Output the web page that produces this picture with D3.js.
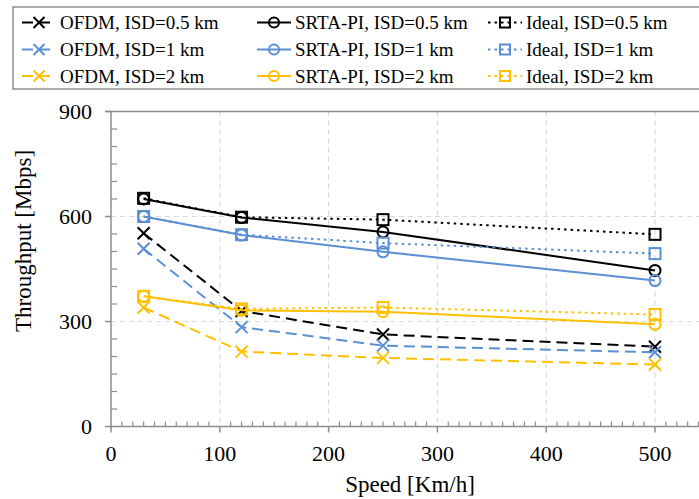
<!DOCTYPE html>
<html>
<head>
<meta charset="utf-8">
<script src="https://cdn.jsdelivr.net/npm/d3@7"></script>
<style>
body{margin:0;background:#fff;}
</style>
</head>
<body>
<div id="svgContainer"></div>
<script>
// chart data
var speeds = [30, 120, 250, 500];
var ofdm05 = [552, 330, 263, 228];
var ofdm1 = [508, 284, 231, 212];
var ofdm2 = [340, 214, 196, 177];
var srta05 = [650, 597, 556, 446];
var srta1 = [600, 547, 499, 417];
var srta2 = [372, 332, 328, 292];
var ideal05 = [652, 598, 591, 549];
var ideal1 = [600, 548, 524, 494];
var ideal2 = [372, 336, 340, 320];
var seriesNames = ["OFDM, ISD=0.5 km","SRTA-PI, ISD=0.5 km","Ideal, ISD=0.5 km",
                   "OFDM, ISD=1 km","SRTA-PI, ISD=1 km","Ideal, ISD=1 km",
                   "OFDM, ISD=2 km","SRTA-PI, ISD=2 km","Ideal, ISD=2 km"];
var xTicks = [0, 100, 200, 300, 400, 500];
var yTicks = [0, 300, 600, 900];

var svgWidth = 699, svgHeight = 499;
var serif = "'Liberation Serif', 'Times New Roman', 'DejaVu Serif', serif";
var svg = d3.select("#svgContainer").append("svg")
    .attr("width", svgWidth).attr("height", svgHeight)
    .attr("font-family", serif)
    .style("font-family", serif)
    .style("display","block");

var black = "#000000", blue = "#5b8fd3", gold = "#ffc000";
var axisCol = "#8c8c8c", gridCol = "#d9d9d9";

var series = [
  {name: seriesNames[0], values: ofdm05, color: black, dash: "11,6", marker: "x"},
  {name: seriesNames[1], values: srta05, color: black, dash: null, marker: "o"},
  {name: seriesNames[2], values: ideal05, color: black, dash: "2.5,4", marker: "s"},
  {name: seriesNames[3], values: ofdm1, color: blue, dash: "11,6", marker: "x"},
  {name: seriesNames[4], values: srta1, color: blue, dash: null, marker: "o"},
  {name: seriesNames[5], values: ideal1, color: blue, dash: "2.5,4", marker: "s"},
  {name: seriesNames[6], values: ofdm2, color: gold, dash: "11,6", marker: "x"},
  {name: seriesNames[7], values: srta2, color: gold, dash: null, marker: "o"},
  {name: seriesNames[8], values: ideal2, color: gold, dash: "2.5,4", marker: "s"}
];

var x = d3.scaleLinear().domain([0, 500]).range([111, 655]);
var y = d3.scaleLinear().domain([0, 900]).range([426.5, 111.5]);
var xRight = svgWidth + 5;

// grid
var grid = svg.append("g");
grid.selectAll(".gx").data(xTicks.slice(1)).enter().append("line")
    .attr("x1", d => x(d)).attr("x2", d => x(d))
    .attr("y1", y(900)).attr("y2", y(0))
    .attr("stroke", gridCol).attr("stroke-width", 1.2).attr("stroke-dasharray", "5,4");
grid.selectAll(".gy").data([300, 600]).enter().append("line")
    .attr("x1", x(0)).attr("x2", xRight)
    .attr("y1", d => y(d)).attr("y2", d => y(d))
    .attr("stroke", gridCol).attr("stroke-width", 1.2).attr("stroke-dasharray", "5,4");
// top border line at 900
svg.append("line")
    .attr("x1", x(0) - 6).attr("x2", xRight)
    .attr("y1", y(900)).attr("y2", y(900))
    .attr("stroke", axisCol).attr("stroke-width", 1.5);

// axes
var xAxis = svg.append("g").attr("transform", "translate(0," + y(0) + ")");
xAxis.append("line").attr("x1", x(0)).attr("x2", xRight)
    .attr("stroke", axisCol).attr("stroke-width", 1.5);
xAxis.selectAll(".minor").data(d3.range(10, 550, 10).filter(d => d % 100 != 0)).enter().append("line")
    .attr("x1", d => x(d)).attr("x2", d => x(d)).attr("y1", 0).attr("y2", -5)
    .attr("stroke", axisCol).attr("stroke-width", 1.2);
xAxis.selectAll(".major").data(xTicks).enter().append("line")
    .attr("x1", d => x(d)).attr("x2", d => x(d)).attr("y1", 0).attr("y2", 6)
    .attr("stroke", axisCol).attr("stroke-width", 1.5);
xAxis.selectAll("text").data(xTicks).enter().append("text")
    .attr("x", d => x(d)).attr("y", 34)
    .attr("text-anchor", "middle").attr("font-size", 22).attr("fill", "#000")
    .text(d => d);

var yAxis = svg.append("g").attr("transform", "translate(" + x(0) + ",0)");
yAxis.append("line").attr("y1", y(0)).attr("y2", y(900))
    .attr("stroke", axisCol).attr("stroke-width", 1.5);
yAxis.selectAll(".minor").data(d3.range(50, 900, 50).filter(d => d % 300 != 0)).enter().append("line")
    .attr("y1", d => y(d)).attr("y2", d => y(d)).attr("x1", 0).attr("x2", 6)
    .attr("stroke", axisCol).attr("stroke-width", 1.2);
yAxis.selectAll(".major").data(yTicks).enter().append("line")
    .attr("y1", d => y(d)).attr("y2", d => y(d)).attr("x1", -6).attr("x2", 0)
    .attr("stroke", axisCol).attr("stroke-width", 1.5);
yAxis.selectAll("text").data(yTicks).enter().append("text")
    .attr("x", -19).attr("y", d => y(d)).attr("dy", "0.35em")
    .attr("text-anchor", "end").attr("font-size", 22).attr("fill", "#000")
    .text(d => d);

// axis titles
svg.append("text").attr("x", 410).attr("y", 492)
    .attr("text-anchor", "middle").attr("font-size", 23).text("Speed [Km/h]");
svg.append("text")
    .attr("transform", "translate(31,241) rotate(-90)")
    .attr("text-anchor", "middle").attr("font-size", 23).text("Throughput [Mbps]");

function drawMarker(g, type, cx, cy, color, s) {
  if (type == "x") {
    g.append("path")
      .attr("d", "M" + (cx - s) + "," + (cy - s) + "L" + (cx + s) + "," + (cy + s) +
                 "M" + (cx - s) + "," + (cy + s) + "L" + (cx + s) + "," + (cy - s))
      .attr("stroke", color).attr("stroke-width", 2).attr("fill", "none");
  } else if (type == "o") {
    g.append("circle").attr("cx", cx).attr("cy", cy).attr("r", s)
      .attr("stroke", color).attr("stroke-width", 2).attr("fill", "none");
  } else {
    g.append("rect").attr("x", cx - s).attr("y", cy - s)
      .attr("width", 2 * s).attr("height", 2 * s)
      .attr("stroke", color).attr("stroke-width", 2).attr("fill", "none");
  }
}
var markerSize = {x: 6, o: 5.5, s: 5.5};

var line = d3.line().x(d => x(d[0])).y(d => y(d[1]));
var plot = svg.append("g");
series.forEach(function(s) {
  var pts = speeds.map((v, i) => [v, s.values[i]]);
  var g = plot.append("g");
  g.append("path").datum(pts).attr("d", line)
    .attr("fill", "none").attr("stroke", s.color).attr("stroke-width", 2)
    .attr("stroke-dasharray", s.dash);
  pts.forEach(function(p) {
    drawMarker(g, s.marker, x(p[0]), y(p[1]), s.color, markerSize[s.marker]);
  });
});

// legend
var legend = svg.append("g");
legend.append("rect").attr("x", 13).attr("y", 7)
    .attr("width", 720).attr("height", 82)
    .attr("fill", "#fff").attr("stroke", "#7f7f7f").attr("stroke-width", 1.3);
var colX = [22, 257, 488];
var rowY = [22.5, 49.5, 76];
series.forEach(function(s, i) {
  var cx = colX[i % 3], cy = rowY[Math.floor(i / 3)];
  var g = legend.append("g");
  g.append("line").attr("x1", cx).attr("x2", cx + 34).attr("y1", cy).attr("y2", cy)
    .attr("stroke", s.color).attr("stroke-width", 2).attr("stroke-dasharray", s.dash);
  drawMarker(g, s.marker, cx + 17, cy, s.color, s.marker == "x" ? 5.5 : 5);
  g.append("text").attr("x", cx + 38).attr("y", cy).attr("dy", "0.35em")
    .attr("font-size", 19).attr("fill", "#000").text(s.name);
});
</script>
</body>
</html>
